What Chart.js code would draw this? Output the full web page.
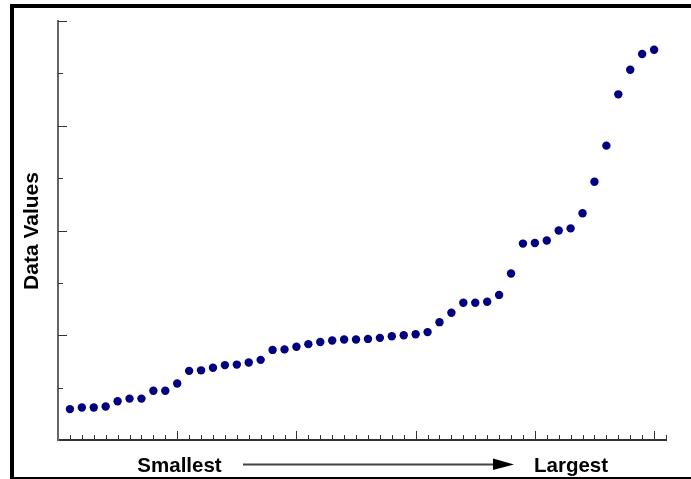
<!DOCTYPE html>
<html>
<head>
<meta charset="utf-8">
<script src="https://cdn.jsdelivr.net/npm/chart.js@4/dist/chart.umd.min.js"></script>
<style>
  html, body { margin: 0; padding: 0; background: #fff; }
  #wrap { width: 691px; height: 479px; }
</style>
</head>
<body>
<div id="wrap"><canvas id="c" width="691" height="479"></canvas></div>
<script>
// ---- data ----
const ranks = [1,2,3,4,5,6,7,8,9,10,11,12,13,14,15,16,17,18,19,20,21,22,23,24,25,
               26,27,28,29,30,31,32,33,34,35,36,37,38,39,40,41,42,43,44,45,46,47,48,49,50];
const dataValues = [0.59,0.62,0.62,0.64,0.74,0.79,0.79,0.94,0.94,1.08,
                    1.32,1.33,1.38,1.43,1.44,1.48,1.53,1.72,1.73,1.78,
                    1.83,1.87,1.90,1.92,1.92,1.93,1.95,1.98,2.00,2.02,
                    2.06,2.25,2.43,2.62,2.62,2.64,2.77,3.18,3.75,3.76,
                    3.81,4.00,4.04,4.33,4.93,5.62,6.60,7.07,7.37,7.45];
const xTickRange = [0, 51];   // minor tick every 1, major every 10
const yTickRange = [0, 8];    // minor tick every 1, major every 2
const xMajorEvery = 10;
const yMajorEvery = 2;
const yTitle = 'Data Values';
const xLeftLabel = 'Smallest';
const xRightLabel = 'Largest';

const FONT = '"Liberation Sans", Arial, sans-serif';

const decorPlugin = {
  id: 'decor',
  afterDraw(chart) {
    const ctx = chart.ctx;
    const xs = chart.scales.x, ys = chart.scales.y;
    ctx.save();
    // tick marks (inward)
    ctx.strokeStyle = '#333';
    ctx.lineWidth = 1;
    const ax = xs.left, ay = ys.bottom;
    for (let v = yTickRange[0] + 1; v <= yTickRange[1]; v++) {
      const py = Math.round(ys.getPixelForValue(v)) + 0.5;
      const len = (v % yMajorEvery === 0) ? 9 : 5;
      ctx.beginPath(); ctx.moveTo(ax, py); ctx.lineTo(ax + len, py); ctx.stroke();
    }
    for (let v = xTickRange[0] + 1; v <= xTickRange[1]; v++) {
      const px = Math.round(xs.getPixelForValue(v)) + 0.5;
      const len = (v % xMajorEvery === 0) ? 9 : 5;
      ctx.beginPath(); ctx.moveTo(px, ay); ctx.lineTo(px, ay - len); ctx.stroke();
    }
    // labels
    ctx.fillStyle = '#000';
    ctx.font = 'bold 20.5px ' + FONT;
    ctx.textBaseline = 'alphabetic';
    ctx.textAlign = 'center';
    ctx.fillText(xLeftLabel, 179.5, 472);
    ctx.textAlign = 'left';
    ctx.fillText(xRightLabel, 534, 472);
    // arrow
    ctx.strokeStyle = '#444';
    ctx.lineWidth = 2;
    ctx.beginPath(); ctx.moveTo(243, 464.5); ctx.lineTo(495, 464.5); ctx.stroke();
    ctx.fillStyle = '#000';
    ctx.beginPath(); ctx.moveTo(493, 458.5); ctx.lineTo(514, 464.5); ctx.lineTo(493, 470); ctx.closePath(); ctx.fill();
    // y title
    ctx.save();
    ctx.translate(38, 231);
    ctx.rotate(-Math.PI / 2);
    ctx.font = 'bold 21px ' + FONT;
    ctx.textAlign = 'center';
    ctx.fillStyle = '#000';
    ctx.fillText(yTitle, 0, 0);
    ctx.restore();
    // frame
    ctx.fillStyle = '#000';
    ctx.fillRect(10, 4, 681, 4);
    ctx.fillRect(10, 4, 4, 475);
    ctx.fillRect(10, 477, 681, 3);
    ctx.restore();
  }
};

new Chart(document.getElementById('c'), {
  type: 'scatter',
  data: {
    datasets: [{
      data: ranks.map((r, i) => ({ x: r, y: dataValues[i] })),
      pointRadius: 4.2,
      pointHoverRadius: 4.2,
      pointBackgroundColor: '#000080',
      pointBorderWidth: 0,
      borderWidth: 0
    }]
  },
  options: {
    responsive: false,
    animation: false,
    events: [],
    layout: { autoPadding: false, padding: { left: 58, top: 21, right: 25, bottom: 39 } },
    plugins: { legend: { display: false }, tooltip: { enabled: false }, title: { display: false } },
    scales: {
      x: {
        type: 'linear', min: xTickRange[0], max: xTickRange[1],
        ticks: { display: false },
        grid: { display: false, drawTicks: false },
        border: { display: true, color: '#333', width: 2 }
      },
      y: {
        type: 'linear', min: yTickRange[0], max: yTickRange[1],
        ticks: { display: false },
        grid: { display: false, drawTicks: false },
        border: { display: true, color: '#666', width: 2 }
      }
    }
  },
  plugins: [decorPlugin]
});
</script>
</body>
</html>
